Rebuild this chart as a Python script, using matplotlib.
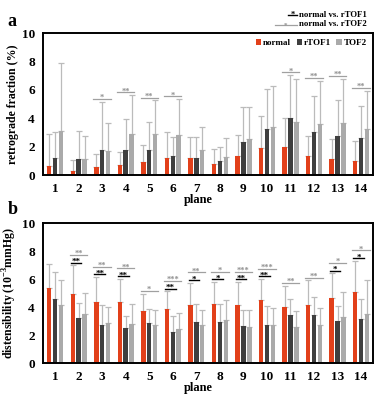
import matplotlib
matplotlib.use("Agg")
import matplotlib.pyplot as plt
import numpy as np
from matplotlib.lines import Line2D

plt.rcParams['font.family'] = ['Liberation Serif', 'DejaVu Serif']
plt.rcParams['font.weight'] = 'bold'
plt.rcParams['mathtext.fontset'] = 'custom'
plt.rcParams['mathtext.rm'] = 'Liberation Serif:bold'
plt.rcParams['mathtext.bf'] = 'Liberation Serif:bold'

planes = np.arange(1, 15)
groups = ["normal", "rTOF1", "TOF2"]
colors = ["#E2401A", "#3F3F3F", "#AAAAAA"]

# panel a: retrograde fraction (%), mean and mean+SD
a_mean = {
    "normal": [0.66, 0.30, 0.56, 0.70, 0.90, 1.20, 1.18, 0.80, 1.34, 1.90, 1.98, 1.32, 1.10, 1.00],
    "rTOF1": [1.18, 1.13, 1.76, 1.79, 1.79, 1.32, 1.18, 0.96, 2.30, 3.25, 4.00, 3.00, 2.75, 2.60],
    "TOF2": [3.10, 1.13, 1.72, 2.87, 2.87, 2.80, 1.79, 1.30, 2.52, 3.36, 3.74, 3.60, 3.65, 3.22],
}
a_top = {
    "normal": [2.87, 1.03, 1.50, 1.65, 2.14, 3.00, 2.66, 1.86, 2.80, 4.12, 3.98, 2.75, 2.54, 2.40],
    "rTOF1": [3.06, 3.08, 5.15, 3.95, 3.76, 2.68, 2.66, 1.95, 4.82, 6.05, 7.04, 5.55, 5.30, 4.85],
    "TOF2": [7.90, 2.75, 3.65, 5.62, 5.25, 5.34, 3.36, 2.60, 4.82, 6.24, 6.75, 6.64, 6.78, 5.93],
}
a_sig1 = [""] * 14
a_sig2 = ["", "", "*", "**", "**", "*", "", "", "", "", "*", "**", "**", "**"]

# panel b: distensibility (10^-3 mmHg)
b_mean = {
    "normal": [5.33, 4.95, 4.34, 4.34, 3.72, 3.86, 4.12, 4.19, 4.15, 4.48, 3.98, 4.15, 4.67, 5.07],
    "rTOF1": [4.57, 3.20, 2.68, 2.49, 2.84, 2.20, 2.94, 2.94, 2.65, 2.73, 3.41, 3.44, 3.00, 3.15],
    "TOF2": [4.12, 3.50, 2.84, 2.80, 2.75, 2.44, 2.68, 3.08, 2.54, 2.68, 2.58, 2.70, 3.32, 3.53],
}
b_top = {
    "normal": [7.04, 6.97, 6.14, 6.02, 4.95, 5.12, 5.73, 5.78, 5.78, 6.00, 5.52, 5.90, 6.40, 7.30],
    "rTOF1": [6.47, 4.27, 4.12, 3.39, 3.89, 3.34, 4.20, 4.22, 3.79, 4.05, 4.57, 4.69, 4.05, 4.57],
    "TOF2": [5.95, 5.00, 4.00, 4.20, 3.79, 3.58, 3.79, 4.48, 3.77, 3.96, 3.70, 3.91, 5.07, 5.90],
}
b_sig1 = ["", "**", "**", "**", "", "**", "*", "*", "**", "**", "", "", "*", "*"]
b_sig2 = ["", "**", "**", "**", "*", "***", "**", "*", "***", "***", "**", "**", "*", "*"]


def draw_panel(ax, mean, top, sig1, sig2, ylabel):
    offs = [-0.25, 0.0, 0.25]
    for g, c, o in zip(groups, colors, offs):
        m = np.array(mean[g])
        t = np.array(top[g])
        ax.bar(planes + o, m, width=0.19, color=c, label=g, zorder=2)
        ax.errorbar(planes + o, m, yerr=[np.zeros_like(m), t - m], fmt="none",
                    ecolor="#BBBBBB", elinewidth=0.9, capsize=2, capthick=0.9, zorder=1)
    for i, p in enumerate(planes):
        ymax = max(top[g][i] for g in groups)
        y = ymax + 0.2
        if sig1[i]:
            ax.plot([p - 0.33, p + 0.12], [y, y], color="black", lw=1.0, zorder=3)
            ax.text(p - 0.1, y - 0.1, sig1[i], ha="center", va="baseline",
                    fontsize=6.5, color="black")
            y += 0.55
        if sig2[i]:
            ax.plot([p - 0.37, p + 0.37], [y, y], color="#A0A0A0", lw=0.9, zorder=3)
            ax.text(p, y - 0.08, sig2[i], ha="center", va="baseline",
                    fontsize=6, color="#909090")
    ax.set_xlim(0.49, 14.51)
    ax.set_ylim(0, 10)
    ax.set_xticks(planes)
    ax.set_yticks([0, 2, 4, 6, 8, 10])
    ax.tick_params(length=0, labelsize=9.5, pad=6)
    for lab in ax.get_xticklabels() + ax.get_yticklabels():
        lab.set_fontweight("bold")
    for s in ax.spines.values():
        s.set_linewidth(1.4)
    ax.set_ylabel(ylabel, fontsize=8.5, fontweight="bold", labelpad=2)
    ax.set_xlabel("plane", fontsize=9, fontweight="bold", labelpad=-1, x=0.47)


fig = plt.figure(figsize=(3.78, 4.0), dpi=100)
ax_a = fig.add_axes([0.114, 0.5625, 0.873, 0.355])
ax_b = fig.add_axes([0.114, 0.0925, 0.873, 0.35])

draw_panel(ax_a, a_mean, a_top, a_sig1, a_sig2, "retrograde fraction (%)")
draw_panel(ax_b, b_mean, b_top, b_sig1, b_sig2, r"distensibility (10$^{-3}$mmHg)")

ax_a.legend(loc="upper right", ncol=3, frameon=False,
            handlelength=0.6, handleheight=0.6, handletextpad=0.2,
            columnspacing=0.6, borderaxespad=0.3, prop={"weight": "bold", "size": 6.5})

fig.text(0.02, 0.935, "a", fontsize=13, fontweight="bold")
fig.text(0.02, 0.465, "b", fontsize=13, fontweight="bold")

# significance key above panel a
fig.add_artist(Line2D([0.762, 0.785], [0.962, 0.962], color="black", lw=1.0))
fig.text(0.7735, 0.958, "*", fontsize=6, ha="center", va="baseline", color="black")
fig.text(0.79, 0.962, "normal vs. rTOF1", fontsize=6.3, va="center", fontweight="bold")
fig.add_artist(Line2D([0.728, 0.785], [0.937, 0.937], color="#A0A0A0", lw=0.9))
fig.text(0.756, 0.934, "*", fontsize=5, ha="center", va="baseline", color="#909090")
fig.text(0.79, 0.94, "normal vs. rTOF2", fontsize=6.3, va="center", fontweight="bold")

fig.savefig("out.png", dpi=100)
